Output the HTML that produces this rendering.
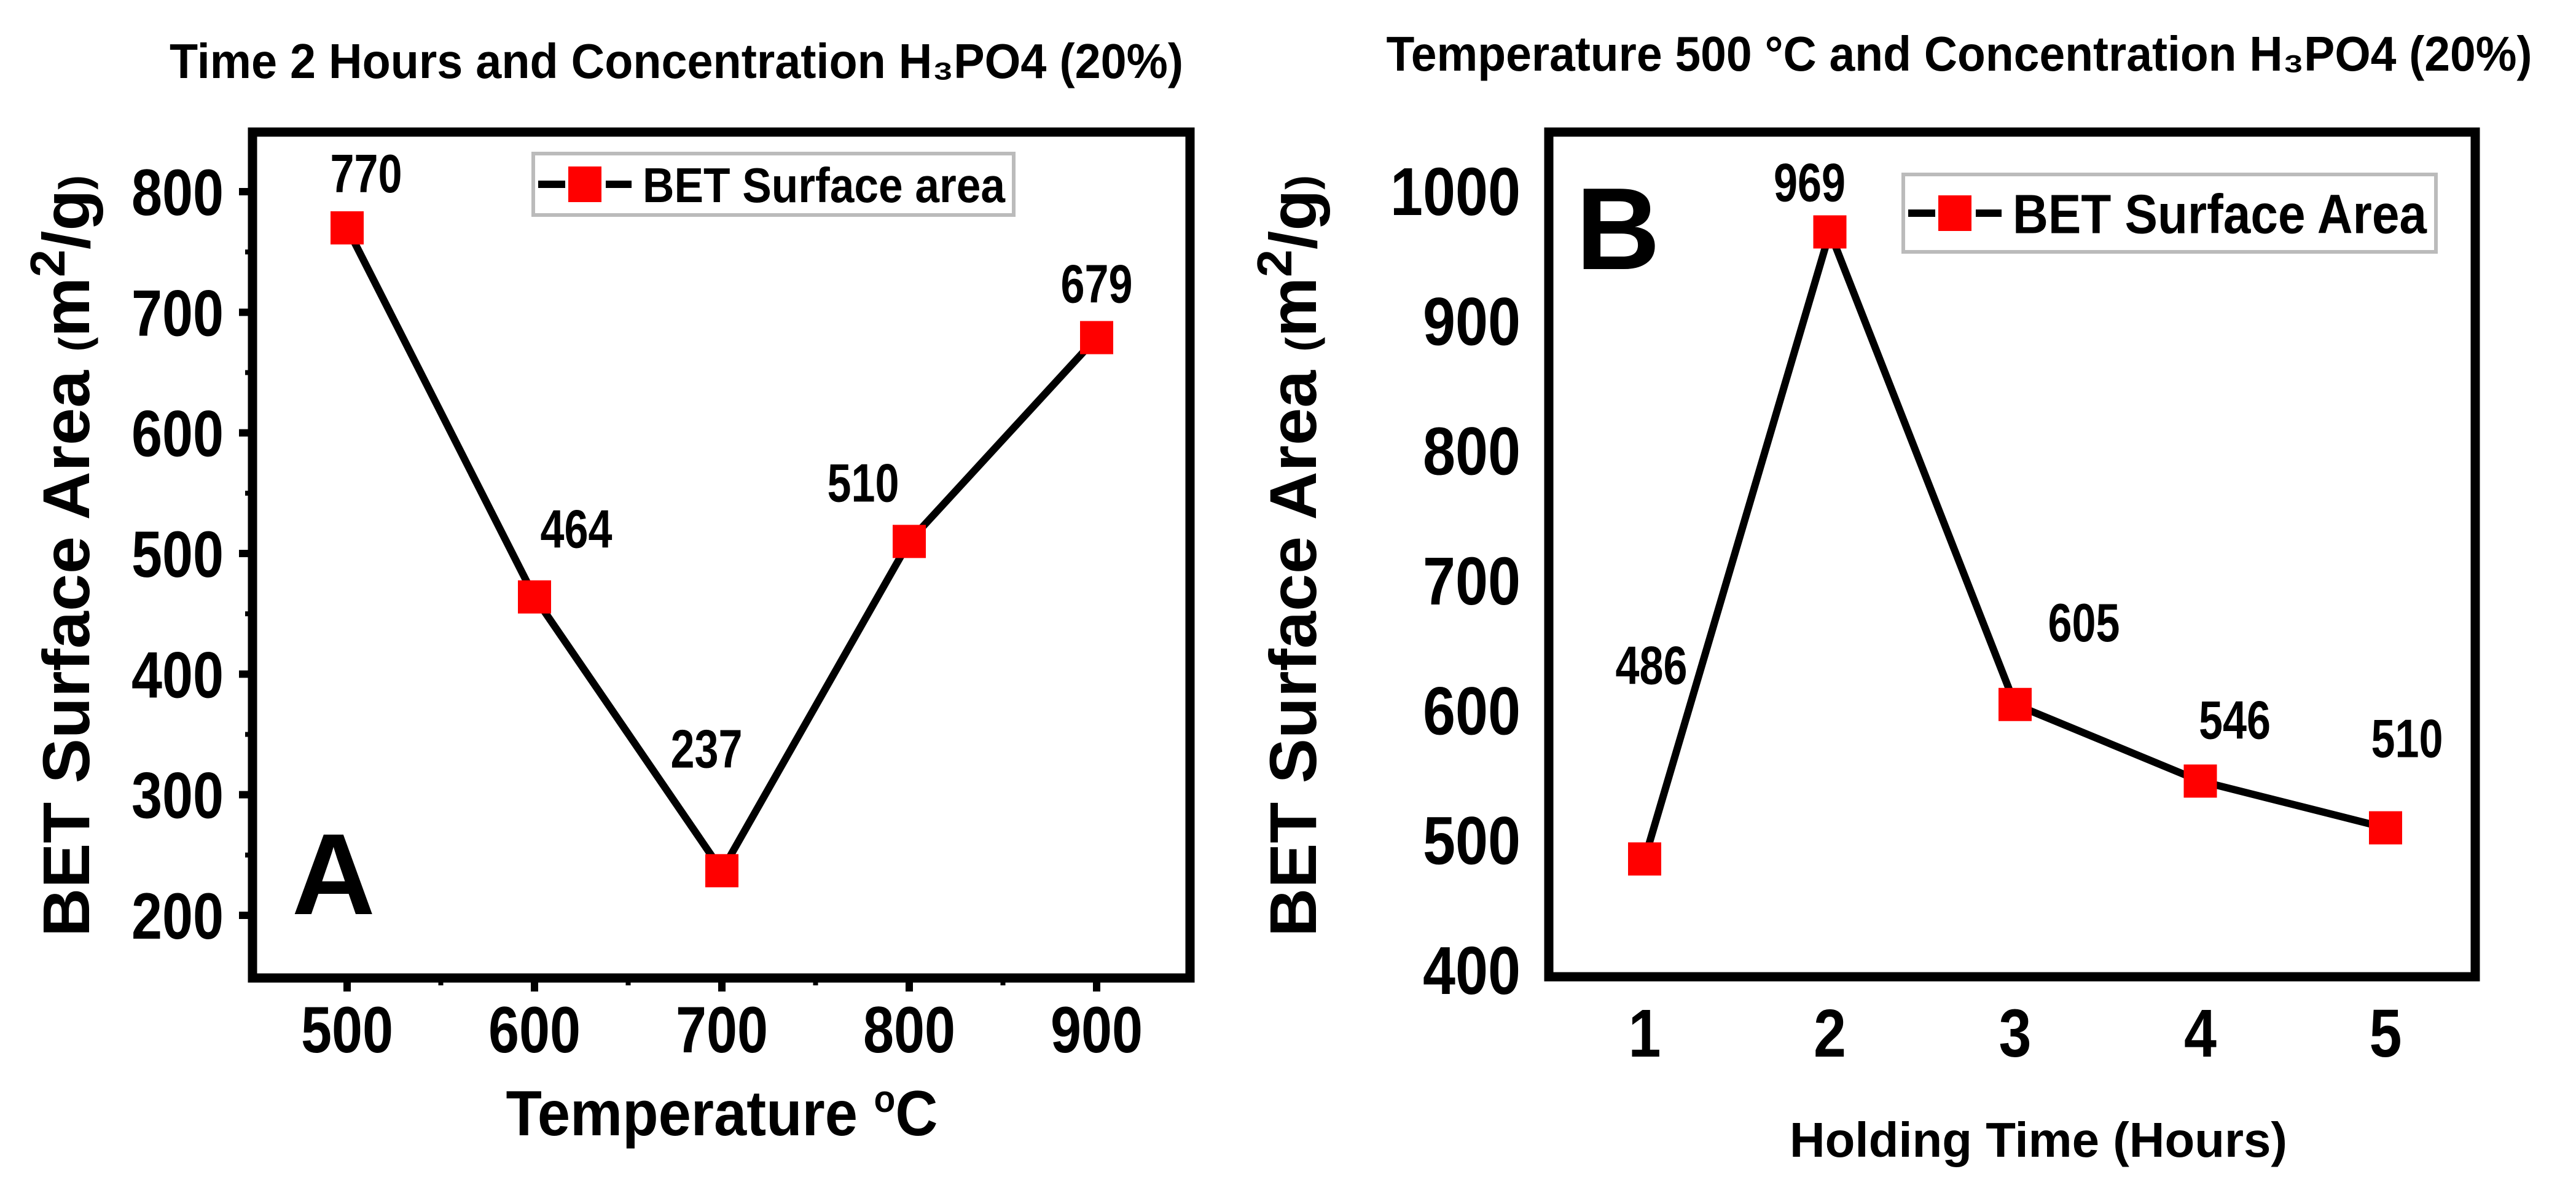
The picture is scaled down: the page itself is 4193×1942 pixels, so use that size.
<!DOCTYPE html>
<html><head><meta charset="utf-8"><style>
html,body{margin:0;padding:0;background:#fff;}
svg{display:block;}
text{font-family:"Liberation Sans Narrow","Liberation Sans",sans-serif;font-weight:bold;fill:#000;}
</style></head><body>
<svg id="chart" width="4193" height="1942" viewBox="0 0 4193 1942" xmlns="http://www.w3.org/2000/svg">
<rect x="0" y="0" width="4193" height="1942" fill="#fff"/>
<text x="1101" y="127" font-size="80" text-anchor="middle" textLength="1650" lengthAdjust="spacingAndGlyphs">Time  2 Hours and Concentration H₃PO4 (20%)</text>
<text x="3189" y="115" font-size="80" text-anchor="middle" textLength="1865" lengthAdjust="spacingAndGlyphs">Temperature 500 °C and Concentration H₃PO4 (20%)</text>
<text transform="translate(145,905) rotate(-90)" font-size="108" text-anchor="middle" textLength="1240" lengthAdjust="spacingAndGlyphs" style="font-family:'Liberation Sans',sans-serif">BET Surface Area <tspan font-size="70">(</tspan>m<tspan dy="-40" font-size="80">2</tspan><tspan dy="40">/g</tspan><tspan font-size="70">)</tspan></text>
<text transform="translate(2142,905) rotate(-90)" font-size="108" text-anchor="middle" textLength="1240" lengthAdjust="spacingAndGlyphs" style="font-family:'Liberation Sans',sans-serif">BET Surface Area <tspan font-size="70">(</tspan>m<tspan dy="-40" font-size="80">2</tspan><tspan dy="40">/g</tspan><tspan font-size="70">)</tspan></text>
<text x="1175" y="1848" font-size="104" text-anchor="middle" textLength="703" lengthAdjust="spacingAndGlyphs" style="font-family:'Liberation Sans',sans-serif">Temperature <tspan dy="-38" font-size="62">o</tspan><tspan dy="38">C</tspan></text>
<text x="3318" y="1883" font-size="80" text-anchor="middle" textLength="810" lengthAdjust="spacingAndGlyphs" style="font-family:'Liberation Sans',sans-serif">Holding Time (Hours)</text>
<text x="475" y="1488" font-size="188" style="font-family:'Liberation Sans',sans-serif">A</text>
<text x="2565" y="438" font-size="190" style="font-family:'Liberation Sans',sans-serif">B</text>
<g id="gA"></g><g id="gB"></g>
</svg>
<script>
// Panel A data
const catsA = [500, 600, 700, 800, 900];
const valsA = [770, 464, 237, 510, 679];
const yTicksA = [200, 300, 400, 500, 600, 700, 800];
const xTicksA = [500, 600, 700, 800, 900];
// Panel B data
const catsB = [1, 2, 3, 4, 5];
const valsB = [486, 969, 605, 546, 510];
const yTicksB = [400, 500, 600, 700, 800, 900, 1000];
const xTicksB = [1, 2, 3, 4, 5];

const NS = 'http://www.w3.org/2000/svg';
function mk(parent, tag, attrs){const e=document.createElementNS(NS,tag);for(const k in attrs)e.setAttribute(k,attrs[k]);parent.appendChild(e);return e;}

function panel(g, cfg){
  const sx = v => cfg.x0 + (v - cfg.xd0) / (cfg.xd1 - cfg.xd0) * (cfg.x1 - cfg.x0);
  const sy = v => cfg.y0 + (v - cfg.yd0) / (cfg.yd1 - cfg.yd0) * (cfg.y1 - cfg.y0);
  const L=cfg.left,R=cfg.right,T=cfg.top,B=cfg.bottom;
  const frame = mk(g,'rect',{x:L,y:T,width:R-L,height:B-T,fill:'none',stroke:'#000','stroke-width':15});
  
  
  cfg.yTicks.forEach(v=>{
    const y=sy(v);
    if(cfg.ticks){const t=mk(g,'line',{x1:L-22,x2:L,y1:y,y2:y,stroke:'#000','stroke-width':12});
      
      }
    const s=String(v);
    const tx=mk(g,'text',{x:cfg.yLabelRight,y:y+38,'font-size':cfg.tickFont,'text-anchor':'end',textLength:s.length*cfg.digitW,lengthAdjust:'spacingAndGlyphs'});
    tx.textContent=s;
    
    
  });
  if(cfg.ticks){
    for(let i=0;i<cfg.yTicks.length-1;i++){const y=sy((cfg.yTicks[i]+cfg.yTicks[i+1])/2);
      const t=mk(g,'line',{x1:L-12,x2:L,y1:y,y2:y,stroke:'#000','stroke-width':8});
      
      }
  }
  cfg.xTicks.forEach((v,i)=>{
    const x=sx(v);
    if(cfg.ticks){const t=mk(g,'line',{x1:x,x2:x,y1:B,y2:B+22,stroke:'#000','stroke-width':12});
      
      
      if(i<cfg.xTicks.length-1){const xm=sx((v+cfg.xTicks[i+1])/2);
        const m=mk(g,'line',{x1:xm,x2:xm,y1:B,y2:B+12,stroke:'#000','stroke-width':8});
        
        }}
    const s=String(v);
    const tx=mk(g,'text',{x:x,y:cfg.xLabelY,'font-size':cfg.tickFont,'text-anchor':'middle',textLength:s.length*cfg.digitW,lengthAdjust:'spacingAndGlyphs'});
    tx.textContent=s;
    
    
  });
  const pts=cfg.cats.map((c,i)=>sx(c)+','+sy(cfg.vals[i])).join(' ');
  const pl=mk(g,'polyline',{points:pts,fill:'none',stroke:'#000','stroke-width':12,'stroke-linejoin':'miter'});
  
  
  cfg.cats.forEach((c,i)=>{
    const x=sx(c),y=sy(cfg.vals[i]);
    const r=mk(g,'rect',{x:x-27,y:y-27,width:54,height:54,fill:'#ff0000'});
    
    
    const o=cfg.lab[i];
    const s=String(cfg.vals[i]);
    const t=mk(g,'text',{x:x+o[0],y:y+o[1]+32,'font-size':88,'text-anchor':'middle',textLength:s.length*39,lengthAdjust:'spacingAndGlyphs'});
    t.textContent=s;
    
    
  });
  const lg=cfg.leg;
  const box=mk(g,'rect',{x:lg.x,y:lg.y,width:lg.w,height:lg.h,fill:'#fff',stroke:'#bbb','stroke-width':6});
  
  
  const cy=lg.y+lg.h/2;
  const ll=mk(g,'line',{x1:lg.x+8,x2:lg.x+160,y1:cy,y2:cy,stroke:'#000','stroke-width':12,'stroke-dasharray':'44 18 30 18 44'});
  
  
  const lm=mk(g,'rect',{x:lg.x+84-27,y:cy-29,width:54,height:58,fill:'#ff0000'});
  
  
  const lt=mk(g,'text',{x:lg.x+178,y:cy+lg.fs*0.36,'font-size':lg.fs,textLength:lg.tl,lengthAdjust:'spacingAndGlyphs'});
  lt.textContent=lg.text;
  
  
}

panel(document.getElementById('gA'),{name:'panel-a',cats:catsA,vals:valsA,yTicks:yTicksA,xTicks:xTicksA,
  x0:565,x1:1785,xd0:500,xd1:900,y0:312,y1:1490,yd0:800,yd1:200,
  left:411,right:1937,top:215,bottom:1592,ticks:true,tickFont:107,digitW:50,yLabelRight:364,xLabelY:1713,
  lab:[[31,-90],[68,-112],[-25,-200],[-75,-97],[0,-89]],
  leg:{x:868,y:250,w:782,h:100,fs:80,tl:590,text:'BET Surface area'}});
panel(document.getElementById('gB'),{name:'panel-b',cats:catsB,vals:valsB,yTicks:yTicksB,xTicks:xTicksB,
  x0:2677,x1:3883,xd0:1,xd1:5,y0:1580,y1:312,yd0:400,yd1:1000,
  left:2521,right:4029,top:215,bottom:1590,ticks:false,tickFont:110,digitW:53,yLabelRight:2475,xLabelY:1720,
  lab:[[11,-317],[-33,-82],[112,-135],[56,-101],[35,-147]],
  leg:{x:3098,y:284,w:867,h:126,fs:90,tl:674,text:'BET Surface Area'}});
</script>
</body></html>
